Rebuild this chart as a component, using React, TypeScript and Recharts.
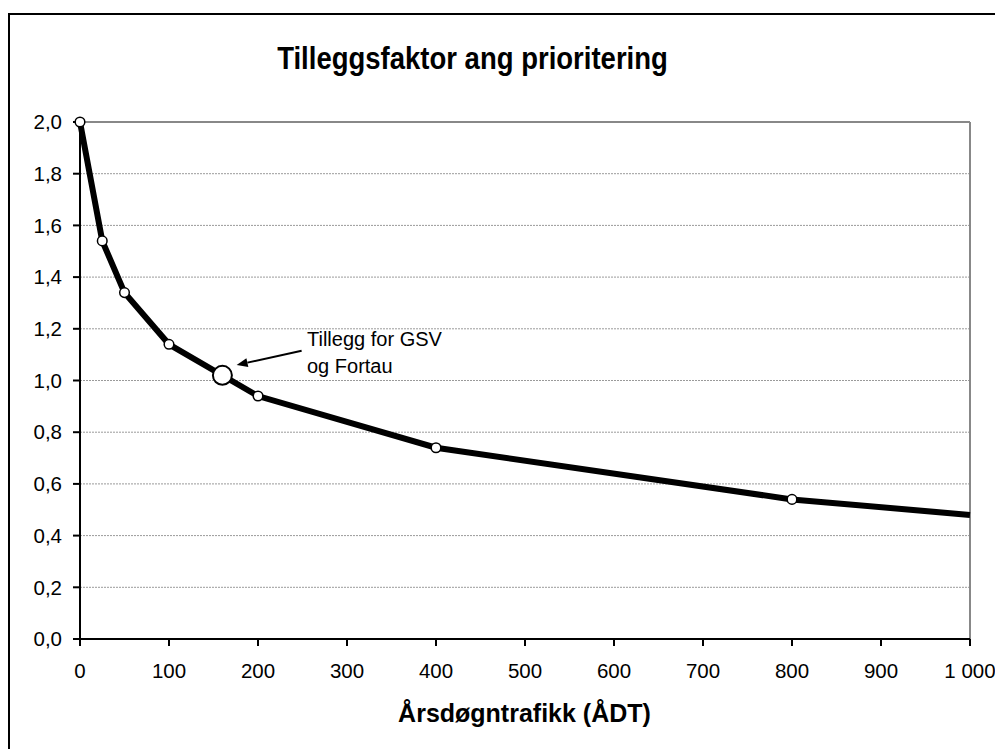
import React from 'react';
import {
  ComposedChart,
  Line,
  Scatter,
  XAxis,
  YAxis,
  CartesianGrid,
  ReferenceLine,
} from 'recharts';

// Årsdøgntrafikk (ÅDT) vs tilleggsfaktor
const adt = [0, 25, 50, 100, 200, 400, 800, 1000];
const factor = [2.0, 1.54, 1.34, 1.14, 0.94, 0.74, 0.54, 0.48];

// highlighted point: GSV og fortau
const gsvAdt = [160];
const gsvFactor = [1.02];

// arrow from label to highlighted point
const arrowFrom = { x: 249, y: 1.115 };
const arrowTo = { x: 176, y: 1.06 };

const xTicks = [0, 100, 200, 300, 400, 500, 600, 700, 800, 900, 1000];
const yTicks = [0, 0.2, 0.4, 0.6, 0.8, 1.0, 1.2, 1.4, 1.6, 1.8, 2.0];

const curve = adt.map((x, i) => ({ x, y: factor[i] }));
const gsv = gsvAdt.map((x, i) => ({ x, y: gsvFactor[i] }));

const FONT = '"Liberation Sans", Arial, sans-serif';

const fmtX = (v: number) => (v >= 1000 ? '1 000' : String(v));
const fmtY = (v: number) => v.toFixed(1).replace('.', ',');

const SmallDot = (props: any) => {
  const { cx, cy, index } = props;
  if (index === adt.length - 1) return <g key={`d-${index}`} />;
  return (
    <circle key={`d-${index}`} cx={cx} cy={cy} r={4.8} fill="#fff" stroke="#000" strokeWidth={1.5} />
  );
};

const BigDot = (props: any) => (
  <circle cx={props.cx} cy={props.cy} r={9.5} fill="#fff" stroke="#000" strokeWidth={2} />
);

const Arrow = (props: any) => {
  const { x1, y1, x2, y2 } = props;
  const dx = x2 - x1;
  const dy = y2 - y1;
  const len = Math.sqrt(dx * dx + dy * dy) || 1;
  const ux = dx / len;
  const uy = dy / len;
  const hl = 11;
  const hw = 4.5;
  const bx = x2 - ux * hl;
  const by = y2 - uy * hl;
  const pts = `${x2},${y2} ${bx - uy * hw},${by + ux * hw} ${bx + uy * hw},${by - ux * hw}`;
  return (
    <g>
      <line x1={x1} y1={y1} x2={bx} y2={by} stroke="#000" strokeWidth={2} />
      <polygon points={pts} fill="#000" />
    </g>
  );
};

export default function App() {
  return (
    <div style={{ position: 'relative', width: 995, height: 741, overflow: 'hidden', fontFamily: FONT }}>
      <div
        style={{
          position: 'absolute',
          left: 0,
          top: 5,
          width: 1100,
          height: 1000,
          borderTop: '2px solid #000',
          borderLeft: '2px solid #000',
          boxSizing: 'border-box',
        }}
      />
      <div
        style={{
          position: 'absolute',
          left: 0,
          top: 38,
          width: 929,
          textAlign: 'center',
          fontSize: 27.5,
          lineHeight: 1,
          fontWeight: 'bold',
          color: '#000',
          transform: 'scaleY(1.16)',
          transformOrigin: '50% 23px',
        }}
      >
        Tilleggsfaktor ang prioritering
      </div>
      <ComposedChart
        width={995}
        height={741}
        margin={{ top: 114, right: 33, bottom: 60, left: 0 }}
        style={{ position: 'absolute', left: 0, top: 0 }}
      >
        <CartesianGrid vertical={false} stroke="#9a9a9a" strokeDasharray="2 1" strokeWidth={1} />
        <XAxis
          type="number"
          dataKey="x"
          domain={[0, 1000]}
          ticks={xTicks}
          tickFormatter={fmtX}
          stroke="#000"
          strokeWidth={2}
          tickSize={7}
          tickMargin={17}
          height={50}
          tick={{ fill: '#000', fontSize: 20.5, fontFamily: FONT }}
          tickLine={{ stroke: '#000', strokeWidth: 2 }}
        />
        <YAxis
          type="number"
          dataKey="y"
          domain={[0, 2]}
          ticks={yTicks}
          tickFormatter={fmtY}
          width={72}
          stroke="#000"
          strokeWidth={2}
          tickSize={7}
          tickMargin={11}
          tick={{ fill: '#000', fontSize: 20.5, fontFamily: FONT }}
          tickLine={{ stroke: '#000', strokeWidth: 2 }}
        />
        <ReferenceLine y={2} stroke="#888" strokeWidth={2} />
        <ReferenceLine x={1000} stroke="#888" strokeWidth={2} />
        <Line
          data={curve}
          dataKey="y"
          type="linear"
          stroke="#000"
          strokeWidth={6}
          dot={SmallDot}
          activeDot={false}
          isAnimationActive={false}
        />
        <Scatter data={gsv} dataKey="y" shape={BigDot} isAnimationActive={false} />
        <ReferenceLine segment={[arrowFrom, arrowTo]} shape={Arrow} />
      </ComposedChart>
      <div
        style={{
          position: 'absolute',
          left: 299,
          top: 318,
          fontSize: 20,
          lineHeight: '26.6px',
          color: '#000',
        }}
      >
        Tillegg for GSV
        <br />
        og Fortau
      </div>
      <div
        style={{
          position: 'absolute',
          left: 0,
          top: 693,
          width: 1033,
          textAlign: 'center',
          fontSize: 25,
          lineHeight: 1,
          fontWeight: 'bold',
          color: '#000',
        }}
      >
        Årsdøgntrafikk (ÅDT)
      </div>
    </div>
  );
}
